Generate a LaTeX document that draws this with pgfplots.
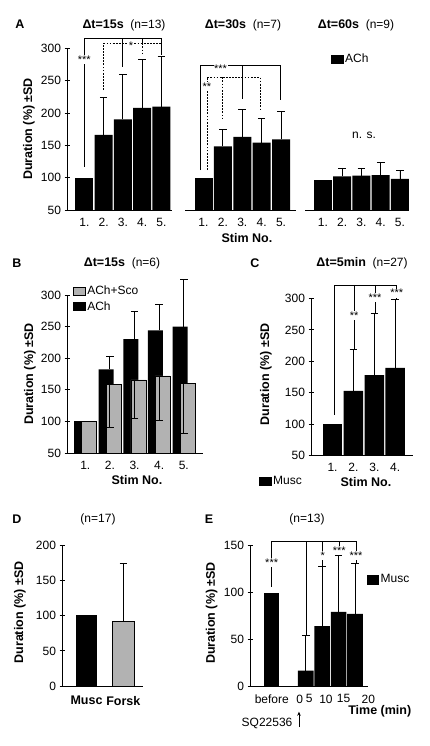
\documentclass[border=0pt]{standalone}
\usepackage{pgfplots}
\pgfplotsset{compat=1.18}
\usetikzlibrary{arrows.meta}
\usepackage{fontspec}
\setmainfont{Liberation Sans}
\newcommand{\fr}{\fontsize{12}{14}\selectfont}
\newcommand{\fb}{\fontsize{12.5}{14}\selectfont\bfseries}
\pgfplotsset{
  base/.style={
    scale only axis, anchor=south west,
    font=\fr,
    /pgf/number format/assume math mode=true,
    clip mode=individual,
    axis x line=bottom, axis y line=left,
    axis line style={-, line width=0.9pt},
    every tick/.style={black, line width=0.9pt},
    x tick style={draw=none},
    major tick length=5pt, tick align=center,
    yticklabel style={font=\fr},
    xticklabel style={font=\fr, yshift=-2pt},
    legend cell align=left,
    legend style={draw=none, fill=none, inner sep=0pt, font=\fr},
    legend image code/.code={\draw[##1] (0pt,-4.2pt) rectangle (11.5pt,4.2pt);},
  },
  errp/.style={error bars/.cd, y dir=plus, y explicit,
    error bar style={line width=0.9pt, black},
    error mark options={rotate=90, black, line width=0.9pt, mark size=3.8pt}},
  errm/.style={error bars/.cd, y dir=minus, y explicit,
    error bar style={line width=0.9pt, black},
    error mark options={rotate=90, black, line width=0.9pt, mark size=3.8pt}},
}
\tikzset{
  sol/.style={line width=0.8pt},
  dsh/.style={line width=0.8pt, dash pattern=on 1.8pt off 1.3pt},
  star/.style={fill=white, inner sep=0.6pt, font=\fontsize{11}{12}\selectfont, yshift=-2.5pt},
}
\colorlet{scogray}{black!30}
\begin{document}
\begin{tikzpicture}[x=1pt,y=1pt,font=\fr]
\path[use as bounding box] (0,0) rectangle (429,746);
% ================= A1 (dt=15s)
\begin{axis}[base, at={(67pt,536pt)}, width=105pt, height=161.7pt,
  xmin=0.1, xmax=5.55, ymin=50, ymax=300, ytick={50,100,...,300},
  xtick={1,...,5}, xticklabels={1.,2.,3.,4.,5.}]
\addplot[ybar, bar width=18pt, bar shift=0pt, fill=black, draw=none] coordinates {(1,100)};
\addplot[ybar, bar width=18pt, bar shift=0pt, fill=black, draw=none, errp] coordinates {
 (2,166) +- (0,58) (3,190) +- (0,70) (4,208) +- (0,74) (5,210) +- (0,77)};
\draw[sol] (axis cs:1,116.5) -- (axis cs:1,315.5) -- (axis cs:5,315.5) -- (axis cs:5,289);
\draw[sol] (axis cs:3,315.5) -- (axis cs:3,271);
\draw[sol] (axis cs:4,315.5) -- (axis cs:4,307.7);
\draw[dsh] (axis cs:2,235.5) -- (axis cs:2,307.7) -- (axis cs:5,307.7);
\draw[dsh] (axis cs:4,307.7) -- (axis cs:4,289);
\node[star] at (axis cs:1,286.5) {***};
\node[star] at (axis cs:3.42,307.7) {*};
\end{axis}
% ================= A2 (dt=30s)
\begin{axis}[base, at={(185pt,536pt)}, width=111pt, height=161.7pt,
  axis y line=none, ytick=\empty,
  xmin=0.046, xmax=5.77, ymin=50, ymax=300,
  xtick={1,...,5}, xticklabels={1.,2.,3.,4.,5.}]
\addplot[ybar, bar width=18pt, bar shift=0pt, fill=black, draw=none] coordinates {(1,100)};
\addplot[ybar, bar width=18pt, bar shift=0pt, fill=black, draw=none, errp] coordinates {
 (2,148.5) +- (0,26.5) (3,163) +- (0,43) (4,154) +- (0,37) (5,159) +- (0,44)};
\draw[sol] (axis cs:0.82,111.8) -- (axis cs:0.82,273) -- (axis cs:4.94,273) -- (axis cs:4.94,220);
\draw[sol] (axis cs:3.02,273) -- (axis cs:3.02,221.6);
\node[star] at (axis cs:1.88,273) {***};
\draw[dsh] (axis cs:1.18,111.8) -- (axis cs:1.18,255) -- (axis cs:3.91,255) -- (axis cs:3.91,204.6);
\draw[dsh] (axis cs:1.95,255) -- (axis cs:1.95,189);
\node[star] at (axis cs:1.18,244.8) {**};
\end{axis}
% ================= A3 (dt=60s)
\begin{axis}[base, at={(305pt,536pt)}, width=104pt, height=161.7pt,
  axis y line=none, ytick=\empty,
  xmin=0.065, xmax=5.47, ymin=50, ymax=300,
  xtick={1,...,5}, xticklabels={1.,2.,3.,4.,5.},
  legend style={at={(0.25,0.934)}, anchor=west}]
\addplot[ybar, bar width=18pt, bar shift=0pt, fill=black, draw=none, errp] coordinates {
 (2,102) +- (0,13) (3,103) +- (0,12) (4,104) +- (0,19) (5,98) +- (0,13)};
\addlegendentry{ACh}
\addplot[ybar, bar width=18pt, bar shift=0pt, fill=black, draw=none, forget plot] coordinates {(1,96.5)};
\node at (axis cs:3.13,166) {n. s.};
\end{axis}
% ================= B
\begin{axis}[base, at={(67pt,293pt)}, width=136pt, height=176.96pt,
  y axis line style={draw=none},
  xmin=0.256, xmax=5.78, ymin=50, ymax=330, ytick={50,100,...,300},
  xtick={1,...,5}, xticklabels={1.,2.,3.,4.,5.},
  reverse legend,
  legend style={at={(0.045,0.955)}, anchor=north west, row sep=1pt}]
\addplot[ybar, bar width=15pt, bar shift=-3.7pt, fill=black, draw=none, errp] coordinates {
 (2,182.5) +- (0,21) (3,230) +- (0,44) (4,244) +- (0,41) (5,250) +- (0,74)};
\addlegendentry{ACh}
\addplot[ybar, bar width=15pt, bar shift=-3.7pt, fill=black, draw=none, forget plot] coordinates {(1,100)};
\addplot[ybar, bar width=15pt, bar shift=3.7pt, fill=scogray, draw=black, line width=0.5pt, errm] coordinates {
 (2,159) +- (0,69) (3,165.5) +- (0,60.5) (4,172) +- (0,70) (5,160) +- (0,79.5)};
\addlegendentry{ACh+Sco}
\addplot[ybar, bar width=15pt, bar shift=3.7pt, fill=scogray, draw=black, line width=0.5pt, forget plot] coordinates {(1,100)};
\draw[line width=0.9pt] (axis cs:0.256,50) -- (axis cs:0.256,300);
\end{axis}
% ================= C
\begin{axis}[base, at={(311pt,290.5pt)}, width=102pt, height=157pt,
  xmin=-0.03, xmax=4.85, ymin=50, ymax=300, ytick={50,100,...,300},
  xtick={1,...,4}, xticklabels={1.,2.,3.,4.},
  legend style={at={(-0.51,-0.162)}, anchor=west}]
\addplot[ybar, bar width=19.5pt, bar shift=0pt, fill=black, draw=none, errp] coordinates {
 (2,153) +- (0,66) (3,178) +- (0,98) (4,189.5) +- (0,108.5)};
\addlegendentry{Musc}
\addplot[ybar, bar width=19.5pt, bar shift=0pt, fill=black, draw=none, forget plot] coordinates {(1,100)};
\draw[sol] (axis cs:1.07,114.5) -- (axis cs:1.07,321.5) -- (axis cs:4.07,321.5) -- (axis cs:4.07,299);
\draw[sol] (axis cs:2.03,321.5) -- (axis cs:2.03,219.6);
\draw[sol] (axis cs:3.03,321.5) -- (axis cs:3.03,276);
\node[star] at (axis cs:2.03,276.4) {**};
\node[star] at (axis cs:3.03,305.6) {***};
\node[star] at (axis cs:4.07,312.4) {***};
\end{axis}
% ================= D
\begin{axis}[base, at={(62pt,60pt)}, width=81pt, height=140.3pt,
  xmin=0.334, xmax=2.535, ymin=0, ymax=200, ytick={0,50,...,200},
  xtick={1,2}, xticklabels={Musc,Forsk},
  xticklabel style={font=\fb, yshift=-2pt}]
\addplot[ybar, bar width=21.5pt, bar shift=0pt, fill=black, draw=none] coordinates {(1,101)};
\addplot[ybar, bar width=21.5pt, bar shift=0pt, fill=scogray, draw=black, line width=0.5pt, errp] coordinates {
 (2,93) +- (0,82)};
\end{axis}
% ================= E
\begin{axis}[base, at={(250pt,59.3pt)}, width=118.3pt, height=141pt,
  xmin=-2.40, xmax=4.81, ymin=0, ymax=150, ytick={0,50,100,150},
  xtick={-1.07,0.63,1.21,2.23,3.30,4.81}, xticklabels={before,0,5,10,15,20},
  legend style={at={(0.985,0.76)}, anchor=west}]
\addplot[ybar, bar width=15.6pt, bar shift=0pt, fill=black, draw=none, errp] coordinates {
 (1,17) +- (0,37.5) (2,64.5) +- (0,63) (3,79.5) +- (0,60.5) (4,77.5) +- (0,54)};
\addlegendentry{Musc}
\addplot[ybar, bar width=15.6pt, bar shift=0pt, fill=black, draw=none, forget plot] coordinates {(-1.1,100)};
\draw[sol] (axis cs:-1.08,106.4) -- (axis cs:-1.08,154.3) -- (axis cs:4.06,154.3) -- (axis cs:4.06,132);
\draw[sol] (axis cs:1.05,154.3) -- (axis cs:1.05,54);
\draw[sol] (axis cs:2.03,154.3) -- (axis cs:2.03,127.7);
\draw[sol] (axis cs:3.04,154.3) -- (axis cs:3.04,140);
\node[star] at (axis cs:-1.08,134.8) {***};
\node[star] at (axis cs:2.03,141.9) {*};
\node[star] at (axis cs:3.04,147.2) {***};
\node[star] at (axis cs:4.06,141.9) {***};
\draw[-{Stealth[length=4pt,width=3.5pt]}, line width=0.8pt] (axis cs:0.585,-43) -- (axis cs:0.585,-26.6);
\node[anchor=east] at (axis cs:0.40,-39) {SQ22536};
\node[font=\fb] at (axis cs:5.51,-25.9) {Time (min)};
\end{axis}
% ================= texts
\node[font=\fb] at (20,722) {A};
\node at (124,721) {{\fb Δt=15s}\ \ (n=13)};
\node at (243,721) {{\fb Δt=30s}\ \ (n=7)};
\node at (356,721) {{\fb Δt=60s}\ \ (n=9)};
\node[rotate=90, font=\fb] at (29,617) {Duration (\%) ±SD};
\node[font=\fb] at (247,508) {Stim No.};
\node[font=\fb] at (17,483) {B};
\node at (122,483) {{\fb Δt=15s}\ \ (n=6)};
\node[rotate=90, font=\fb] at (30,372) {Duration (\%) ±SD};
\node[font=\fb] at (137,266) {Stim No.};
\node[font=\fb] at (255,483) {C};
\node at (362,483) {{\fb Δt=5min}\ \ (n=27)};
\node[rotate=90, font=\fb] at (266,371.5) {Duration (\%) ±SD};
\node[font=\fb] at (366,264.3) {Stim No.};
\node[font=\fb] at (17,227) {D};
\node at (98,227) {(n=17)};
\node[rotate=90, font=\fb] at (20,133.5) {Duration (\%) ±SD};
\node[font=\fb] at (209,227) {E};
\node at (307,227) {(n=13)};
\node[rotate=90, font=\fb] at (211.7,133) {Duration (\%) ±SD};
\end{tikzpicture}
\end{document}
